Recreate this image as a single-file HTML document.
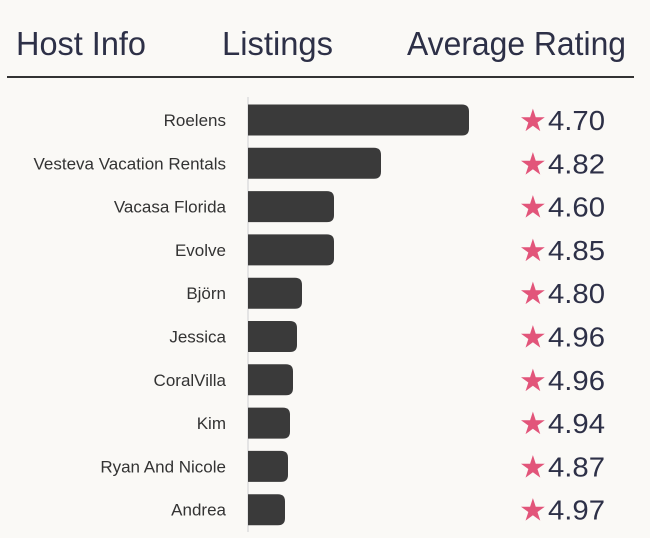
<!DOCTYPE html>
<html><head><meta charset="utf-8"><style>
html,body{margin:0;padding:0;background:#faf9f6;}
svg{display:block;}
</style></head><body>
<svg id="chart" width="650" height="538" viewBox="0 0 650 538" xmlns="http://www.w3.org/2000/svg">
<rect width="650" height="538" fill="#faf9f6"/>
<g font-family="Liberation Sans, sans-serif" font-size="33" fill="#2d3047">
<text x="16" y="55" textLength="130" lengthAdjust="spacingAndGlyphs">Host Info</text>
<text x="222" y="55" textLength="111" lengthAdjust="spacingAndGlyphs">Listings</text>
<text x="407" y="55" textLength="219" lengthAdjust="spacingAndGlyphs">Average Rating</text>
</g>
<line x1="7" y1="77" x2="634" y2="77" stroke="#333" stroke-width="2"/>
<line x1="248" y1="97" x2="248" y2="532" stroke="#ddd" stroke-width="1.5"/>
<g id="rows"></g>
</svg>
<script>
const hosts = ["Roelens","Vesteva Vacation Rentals","Vacasa Florida","Evolve","Björn","Jessica","CoralVilla","Kim","Ryan And Nicole","Andrea"];
const listings = [221,133,86,86,54,49,45,42,40,37];
const ratings = ["4.70","4.82","4.60","4.85","4.80","4.96","4.96","4.94","4.87","4.97"];

const NS = "http://www.w3.org/2000/svg";
const rowsG = document.getElementById('rows');
const x0 = 248, maxW = 221, topY = 120, pitch = 43.3, bh = 31, rad = 7;
const maxV = Math.max(...listings);
const xScale = v => v / maxV * maxW;
function mk(tag, attrs){const e=document.createElementNS(NS,tag);for(const k in attrs)e.setAttribute(k,attrs[k]);return e;}
hosts.forEach((h,i)=>{
  const cy = topY + i*pitch;
  const lab = mk('text',{x:226,y:cy+6,'text-anchor':'end','font-family':'Liberation Sans, sans-serif','font-size':17,fill:'#333'});
  
  
  lab.textContent = h; rowsG.appendChild(lab);
  const w = xScale(listings[i]);
  const y = cy - bh/2;
  const d = `M${x0},${y} H${x0+w-rad} Q${x0+w},${y} ${x0+w},${y+rad} V${y+bh-rad} Q${x0+w},${y+bh} ${x0+w-rad},${y+bh} H${x0} Z`;
  const bar = mk('path',{d:d,fill:'#3a3a3a'});
  
  
  rowsG.appendChild(bar);
  const star = mk('text',{x:519,y:cy+11,'font-family':'DejaVu Sans, sans-serif','font-size':31,fill:'#e2557a'});
  
  
  star.textContent = '★'; rowsG.appendChild(star);
  const rt = mk('text',{x:548,y:cy+10,'font-family':'Liberation Sans, sans-serif','font-size':28,fill:'#2d3047',textLength:57,lengthAdjust:'spacingAndGlyphs'});
  
  
  rt.textContent = ratings[i]; rowsG.appendChild(rt);
});
</script>
</body></html>
